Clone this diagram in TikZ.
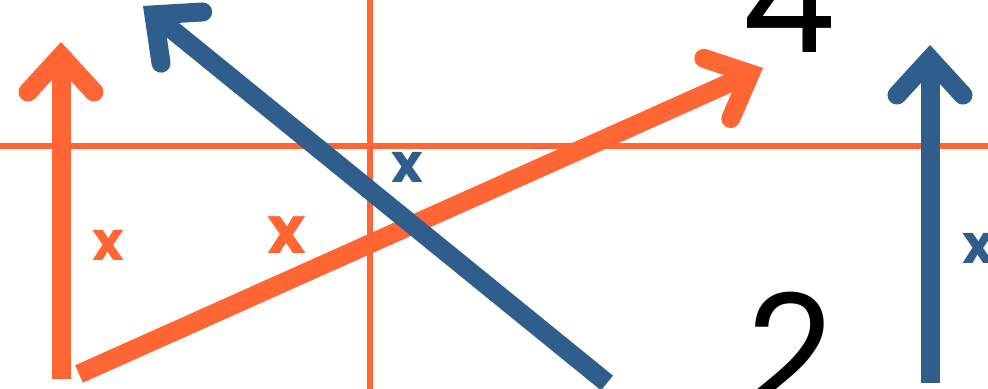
\documentclass[tikz,border=0pt]{standalone}
\usepackage{fontspec}
\setmainfont{Poppins}
\usepackage{tikz}
\usetikzlibrary{arrows.meta}
\definecolor{org}{HTML}{FF6633}
\definecolor{blu}{HTML}{2F5D8C}
\tikzset{
  axis/.style={org,line width=2.6pt},
  vec/.style={line width=9.5pt,-{Straight Barb[length=18pt,width=33pt,line cap=round,line join=miter]}},
  lbl/.style={inner sep=0pt,font=\fontsize{27}{27}\selectfont\bfseries},
  num/.style={inner sep=0pt,font=\fontsize{75}{75}\selectfont},
}
\begin{document}
\begin{tikzpicture}[x=0.5pt,y=-0.5pt]
\clip (0,0) rectangle (988,389);
% ends of the vectors
\coordinate (hl) at (0,146);  \coordinate (hr) at (988,146);
\coordinate (vt) at (370,0);  \coordinate (vb) at (370,389);
\coordinate (a0) at (61,379); \coordinate (a1) at (61,42);
\coordinate (b0) at (79,374); \coordinate (b1) at (763,68);
\coordinate (c0) at (607,383); \coordinate (c1) at (143,6);
\coordinate (d0) at (930,383); \coordinate (d1) at (930,45);
\draw[axis] (hl) -- (hr);
\draw[axis,line width=3pt] (vt) -- (vb);
\draw[vec,org] (a0) -- (a1);
\draw[vec,org] (b0) -- (b1);
\draw[vec,blu] (c0) -- (c1);
\draw[vec,blu] (d0) -- (d1);
\node[lbl,org] (xa) at (108,245) {x};
\node[lbl,org,font=\fontsize{33}{33}\selectfont\bfseries] (xb) at (287,235) {x};
\node[lbl,blu] (xc) at (407,167) {x};
\node[lbl,blu] (xd) at (978,248) {x};
\node[num,anchor=base] (four) at (789,53) {4};
\node[num,anchor=north] (two) at (791,292) {2};
\end{tikzpicture}
\end{document}
